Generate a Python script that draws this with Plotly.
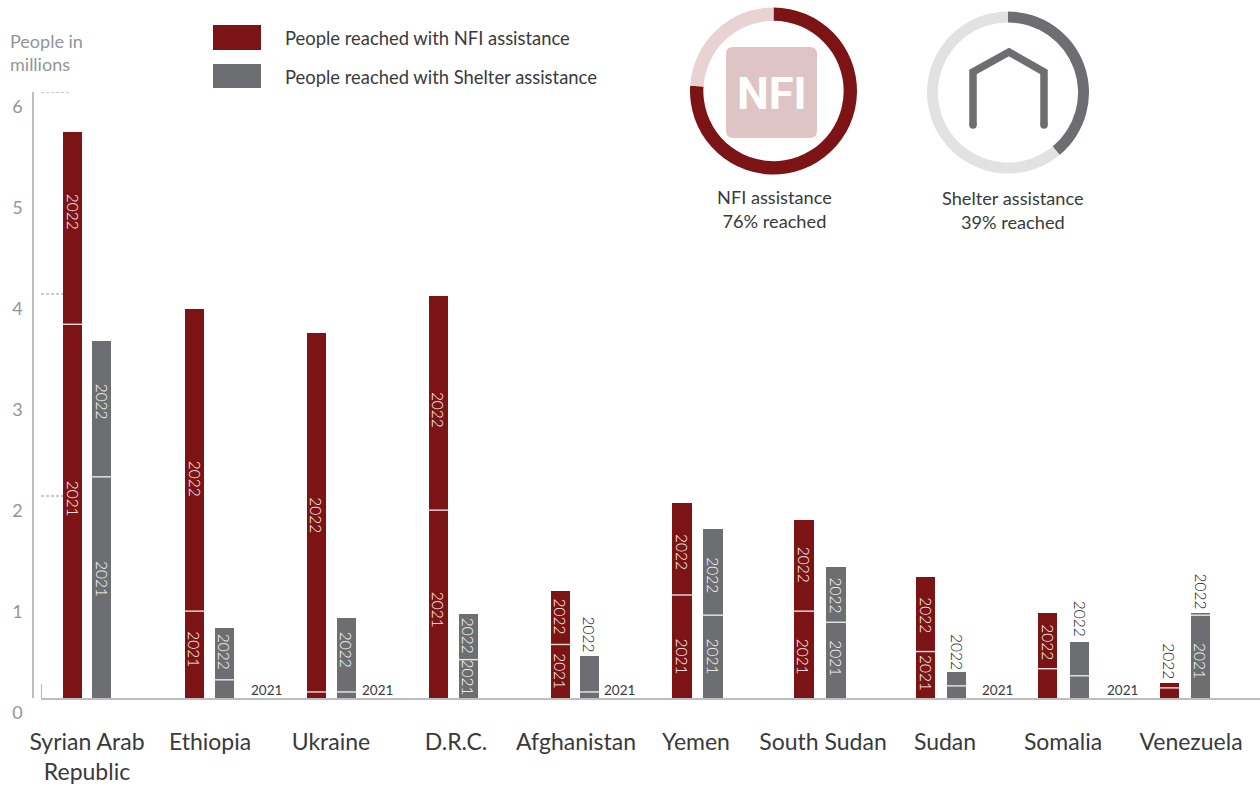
import plotly.graph_objects as go

W, H = 1260, 789

countries = ["Syrian Arab<br>Republic", "Ethiopia", "Ukraine", "D.R.C.", "Afghanistan",
             "Yemen", "South Sudan", "Sudan", "Somalia", "Venezuela"]
nfi_2021 = [3.70, 0.86, 0.06, 1.86, 0.53, 1.02, 0.86, 0.46, 0.29, 0.10]
nfi_2022 = [1.90, 2.99, 3.55, 2.12, 0.53, 0.91, 0.90, 0.74, 0.55, 0.05]
shelter_2021 = [2.19, 0.18, 0.06, 0.38, 0.06, 0.82, 0.75, 0.12, 0.22, 0.82]
shelter_2022 = [1.34, 0.51, 0.73, 0.45, 0.36, 0.85, 0.55, 0.14, 0.33, 0.02]
nfi_share = [76, 24]
shelter_share = [39, 61]
y_ticks = [0, 1, 2, 3, 4, 5, 6]

RED, GREY = "#7c1416", "#6d6e71"
RED_L, GREY_L = "#e8d2d3", "#e1e2e4"
ICON = "#dfc4c5"
AXIS = "#bcbec0"
MUTED = "#939598"
DARK = "#3a3a3c"
FONT = "Lato, sans-serif"
THIN = "Lato Light, Lato, sans-serif"

# pixel helpers
GROUP0, STEP, HALF = 87.5, 121.9, 15.0
XL = 41
def px(x): return (x - GROUP0) / STEP          # x data value for a pixel column
def fx(x): return x / W                        # paper
def fy(y): return 1 - y / H                    # paper

xs = list(range(len(countries)))
pair_gap = [29, 30, 30, 30, 29, 31, 32, 31, 32, 31]
x_nfi = [i - HALF / STEP for i in xs]
x_shelter = [i - HALF / STEP + g / STEP for i, g in zip(xs, pair_gap)]
BAR_W = 19.2 / STEP

fig = go.Figure()
for x, vals, col in [(x_nfi, nfi_2021, RED), (x_nfi, nfi_2022, RED),
                     (x_shelter, shelter_2021, GREY), (x_shelter, shelter_2022, GREY)]:
    fig.add_bar(x=x, y=vals, width=BAR_W, marker=dict(color=col, line_width=0),
                xaxis="x", yaxis="y", showlegend=False)

# white separators between the 2021 and 2022 part of a bar
fig.add_scatter(x=x_nfi + x_shelter, y=nfi_2021 + shelter_2021, mode="markers",
                marker=dict(symbol="line-ew", size=19.2, color="white",
                            line=dict(color="rgba(255,255,255,0.85)", width=1.4)),
                showlegend=False, hoverinfo="skip")

# donuts
fig.add_pie(values=nfi_share, sort=False, direction="clockwise", rotation=0, hole=0.84,
            textinfo="none", marker=dict(colors=[RED, RED_L], line_width=0),
            domain=dict(x=[fx(690), fx(857)], y=[fy(174.5), fy(7.5)]), showlegend=False)
fig.add_pie(values=shelter_share, sort=False, direction="clockwise", rotation=0, hole=0.865,
            textinfo="none", marker=dict(colors=[GREY, GREY_L], line_width=0),
            domain=dict(x=[fx(927), fx(1089)], y=[fy(173.5), fy(11.5)]), showlegend=False)

ann = []
def note(text, x, y, size, color, **kw):
    ann.append(dict(text=text, x=fx(x), y=fy(y), xref="paper", yref="paper", showarrow=False,
                    font=dict(family=kw.pop("family", FONT), size=size, color=color), **kw))

note("People in<br>millions", 8, 52.5, 18, MUTED, xanchor="left", yanchor="middle", align="left")
note("People reached with NFI assistance", 283, 38.5, 18.4, DARK, xanchor="left", yanchor="middle")
note("People reached with Shelter assistance", 283, 77, 18.4, DARK, xanchor="left", yanchor="middle")
note("NFI assistance<br>76% reached", 774.5, 209, 18.2, DARK, xanchor="center", yanchor="middle")
note("Shelter assistance<br>39% reached", 1013, 210, 18.2, DARK, xanchor="center", yanchor="middle")
note("<b>NFI</b>", 771.5, 93, 45, "white", xanchor="center", yanchor="middle",
     family="Roboto, Lato")

# year labels: (series x, base, segment, kind per bar, vertical nudge per bar)
IN, OVER, OUT = "in", "over", "out"
def year_labels(year, x, base, seg, kinds, nudge):
    for i, k in enumerate(kinds):
        if k == IN:
            ann.append(dict(text=year, x=x[i], y=base[i] + seg[i] / 2, yshift=nudge[i], textangle=90,
                            showarrow=False, font=dict(family=THIN, size=15.5, color="white"),
                            xanchor="center", yanchor="middle"))
        elif k == OVER:
            ann.append(dict(text=year, x=x[i], y=base[i] + seg[i], yshift=nudge[i], textangle=90,
                            showarrow=False, font=dict(family=THIN, size=15.5, color="#111113"),
                            xanchor="center", yanchor="bottom"))
        elif k == OUT:
            ann.append(dict(text=year, x=x[i], y=0, xshift=nudge[i], yshift=8, showarrow=False,
                            font=dict(family=FONT, size=13.5, color=DARK),
                            xanchor="center", yanchor="middle"))

zero = [0] * len(xs)
year_labels("2021", x_nfi, zero, nfi_2021,
            [IN, IN, None, IN, IN, IN, IN, IN, None, None],
            [13, 5, 0, -6, 0, -10, -2, 2, 0, 0])
year_labels("2022", x_nfi, nfi_2021, nfi_2022,
            [IN, IN, IN, IN, IN, IN, IN, IN, IN, OVER],
            [17, -19, -3, -7, 1, -3, 1, -1, -1, 2])
year_labels("2021", x_shelter, zero, shelter_2021,
            [IN, OUT, OUT, IN, OUT, IN, IN, OUT, OUT, IN],
            [9, 42, 31, 1, 30, 0, 2, 41, 43, -4])
year_labels("2022", x_shelter, shelter_2021, shelter_2022,
            [IN, IN, IN, IN, OVER, IN, IN, OVER, OVER, OVER],
            [8, 2, 5, 1, 1, -3, -1, 0, 4, 2])

shapes = [
    # legend swatches
    dict(type="rect", xref="paper", yref="paper", x0=fx(213), x1=fx(261), y0=fy(50), y1=fy(25),
         fillcolor=RED, line_width=0),
    dict(type="rect", xref="paper", yref="paper", x0=fx(213), x1=fx(261), y0=fy(88), y1=fy(64),
         fillcolor=GREY, line_width=0),
    # short stub at the start of the baseline
    dict(type="line", xref="paper", yref="paper", x0=fx(41.5), x1=fx(41.5), y0=fy(698), y1=fy(684),
         line=dict(color=AXIS, width=1.2)),
]
# dotted guides
for v in [6, 4, 2]:
    shapes.append(dict(type="line", xref="paper", yref="y", x0=fx(41), x1=fx(70), y0=v, y1=v,
                       layer="below", line=dict(color=MUTED, width=1, dash="3px,2px")))

# NFI icon tile
r = 7
L, R, T, B = fx(726), fx(817), fy(47), fy(138)
rx, ry = r / W, r / H
shapes.append(dict(type="path", xref="paper", yref="paper", fillcolor=ICON, line_width=0,
                   path=f"M {L+rx} {T} L {R-rx} {T} Q {R} {T} {R} {T-ry} L {R} {B+ry} Q {R} {B} {R-rx} {B} "
                        f"L {L+rx} {B} Q {L} {B} {L} {B+ry} L {L} {T-ry} Q {L} {T} {L+rx} {T} Z"))
# Shelter icon
house = [(973, 125), (973, 72), (1009, 52), (1044, 72), (1044, 125)]
shapes.append(dict(type="path", xref="paper", yref="paper", line=dict(color=GREY, width=7.5),
                   path="M " + " L ".join(f"{fx(a)} {fy(b)}" for a, b in house)))
for a, b in [house[0], house[-1]]:
    shapes.append(dict(type="circle", xref="paper", yref="paper", fillcolor=GREY, line_width=0,
                       x0=fx(a - 3.75), x1=fx(a + 3.75), y0=fy(b + 3.75), y1=fy(b - 3.75)))

tick_px = [87, 210, 331, 456, 576, 696, 823, 945, 1063, 1191]

fig.update_layout(
    width=W, height=H, autosize=False,
    barmode="stack", bargap=0, paper_bgcolor="white", plot_bgcolor="rgba(0,0,0,0)",
    margin=dict(l=0, r=0, t=0, b=0, pad=0, autoexpand=False), font=dict(family=FONT),
    annotations=ann, shapes=shapes,
    xaxis=dict(domain=[fx(XL), 1], range=[px(XL), px(W)], anchor="y",
               tickmode="array", tickvals=[px(p) for p in tick_px], ticktext=countries,
               tickfont=dict(family=FONT, size=23, color=DARK), ticks="", ticklabelstandoff=22,
               showgrid=False, zeroline=False, showline=True, linecolor=AXIS, linewidth=2),
    yaxis=dict(domain=[fy(698), fy(92)], range=[0, 6], anchor="free", position=fx(33),
               tickmode="array", tickvals=y_ticks, ticktext=[str(v) for v in y_ticks],
               tickfont=dict(family=FONT, size=18, color=MUTED), ticks="", ticklabelstandoff=6,
               ticklabelshift=15,
               showgrid=False, zeroline=False, showline=True, linecolor=AXIS, linewidth=1.5),
)
fig.write_html("out.html", config=dict(displayModeBar=False),
               post_script="document.body.style.margin='0';document.documentElement.style.overflow='hidden';")
